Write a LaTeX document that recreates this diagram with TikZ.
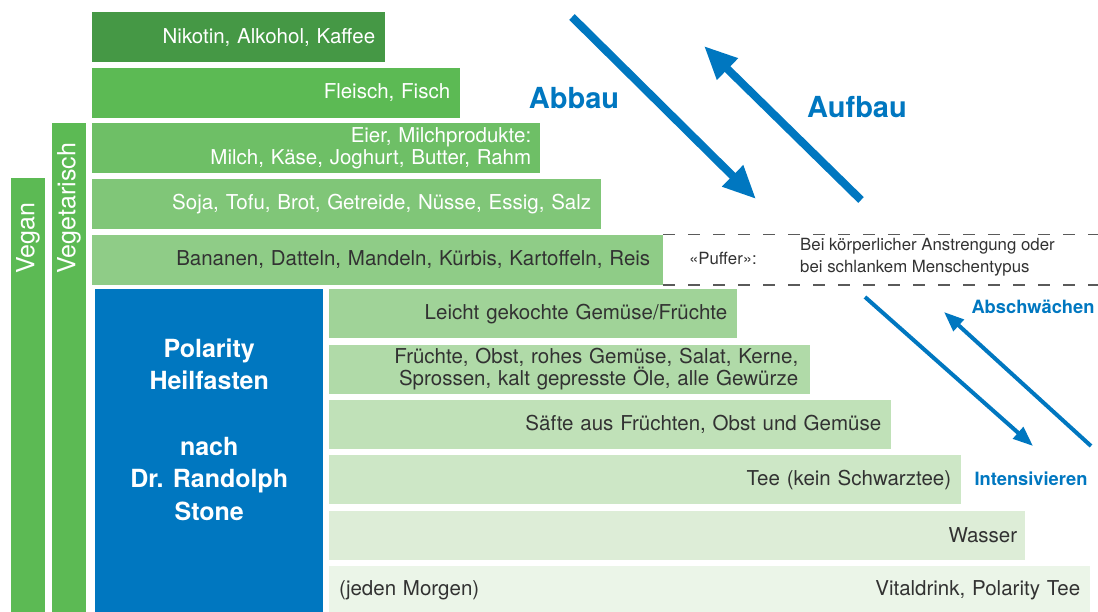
\documentclass[tikz,border=0pt]{standalone}
\usepackage{fontspec}
\setmainfont{TeX Gyre Heros}
\usetikzlibrary{arrows.meta, positioning}

\definecolor{greenA}{RGB}{69,152,69}
\definecolor{greenB}{RGB}{92,186,84}
\definecolor{greenC}{RGB}{110,191,102}
\definecolor{greenD}{RGB}{128,198,120}
\definecolor{greenE}{RGB}{143,204,135}
\definecolor{greenF}{RGB}{160,211,152}
\definecolor{greenG}{RGB}{176,218,168}
\definecolor{greenH}{RGB}{192,225,184}
\definecolor{greenI}{RGB}{205,231,198}
\definecolor{greenJ}{RGB}{221,237,215}
\definecolor{greenK}{RGB}{235,245,232}
\definecolor{polblue}{RGB}{0,119,192}
\definecolor{darktext}{RGB}{50,50,50}
\definecolor{dashgray}{RGB}{90,90,90}

\begin{document}
\begin{tikzpicture}[x=1pt, y=-1pt,
  bar/.style={rectangle, anchor=north west, inner xsep=10pt, inner ysep=0pt,
    minimum height=50pt, align=right, text=darktext,
    font=\fontsize{20.5}{22.5}\selectfont},
  lowbar/.style={bar, minimum height=49pt},
  side/.style={rectangle, anchor=north west, fill=greenB, inner sep=0pt, minimum width=34pt},
  vlabel/.style={rotate=90, anchor=west, text=white, font=\fontsize{25}{28}\selectfont},
  big arrow/.style={line width=8pt, draw=polblue, -{Triangle[length=33pt,width=28pt]}},
  small arrow/.style={line width=4pt, draw=polblue, -{Triangle[length=20pt,width=15pt]}},
  bluebig/.style={text=polblue, font=\fontsize{29}{32}\selectfont\bfseries},
  bluesmall/.style={text=polblue, font=\fontsize{18.3}{20}\selectfont\bfseries},
  puffer line/.style={draw=dashgray, line width=1.2pt, dash pattern=on 12pt off 13pt},
  note/.style={text=darktext, font=\fontsize{16.8}{22}\selectfont}]

  \useasboundingbox (0,0) rectangle (1098,612);

  % side columns
  \node[side, minimum height=434pt] (vegan) at (11,178) {};
  \node[side, minimum height=489pt] (vegetarisch) at (52,123) {};
  \node[vlabel] (veganlbl) at (28,277) {Vegan};
  \node[vlabel] (vegetarischlbl) at (69,277) {Vegetarisch};

  % upper steps
  \node[bar, fill=greenA, text=white, text width=273pt] (nikotin) at (92,12) {Nikotin, Alkohol, Kaffee};
  \node[bar, fill=greenB, text=white, text width=348pt, below=5.25pt of nikotin.south west, anchor=north west] (fleisch) {Fleisch, Fisch};
  \node[bar, fill=greenC, text=white, text width=430pt, inner xsep=9pt, below=5.25pt of fleisch.south west, anchor=north west] (eier) {Eier, Milchprodukte:\\Milch, Käse, Joghurt, Butter, Rahm};
  \node[bar, fill=greenD, text=white, text width=489pt, below=5.25pt of eier.south west, anchor=north west] (soja) {Soja, Tofu, Brot, Getreide, Nüsse, Essig, Salz};
  \node[bar, fill=greenE, text width=545pt, inner xsep=13pt, below=5.25pt of soja.south west, anchor=north west] (bananen) {Bananen, Datteln, Mandeln, Kürbis, Kartoffeln, Reis};

  % puffer zone
  \coordinate (rim) at (1098,0);
  \draw[puffer line] (bananen.north east) -- (bananen.north east -| rim);
  \draw[puffer line] (bananen.south east) -- (bananen.south east -| rim);
  \node[note] (puffer) at (723,258) {«Puffer»:};
  \node[note, anchor=west, align=left, inner xsep=0pt] (puffernote) at (800,257) {Bei körperlicher Anstrengung oder\\bei schlankem Menschentypus};

  % fasting block
  \node[fill=polblue, anchor=north west, minimum width=228pt, minimum height=323pt, inner sep=0pt] (polarity) at (95,289) {};
  \node[text=white, align=center, font=\fontsize{25}{32.5}\selectfont\bfseries] (polaritytext) at ([yshift=21pt]polarity.center) {Polarity\\Heilfasten\\[33pt]nach\\Dr. Randolph\\Stone};

  % lower steps
  \node[lowbar, fill=greenF, text width=388pt] (leicht) at (329,289) {Leicht gekochte Gemüse/Früchte};
  \node[lowbar, fill=greenG, text width=457pt, inner xsep=12pt, below=6pt of leicht.south west, anchor=north west] (fruechte) {Früchte, Obst, rohes Gemüse, Salat, Kerne,\\Sprossen, kalt gepresste Öle, alle Gewürze};
  \node[lowbar, fill=greenH, text width=542pt, below=6pt of fruechte.south west, anchor=north west] (saefte) {Säfte aus Früchten, Obst und Gemüse};
  \node[lowbar, fill=greenI, text width=612pt, below=6pt of saefte.south west, anchor=north west] (tee) {Tee (kein Schwarztee)};
  \node[lowbar, fill=greenJ, text width=680pt, inner xsep=8pt, below=6pt of tee.south west, anchor=north west] (wasser) {Wasser};
  \node[lowbar, fill=greenK, minimum height=48pt, text width=741pt, below=6pt of wasser.south west, anchor=north west] (vital) {(jeden Morgen)\hfill Vitaldrink, Polarity Tee};

  % big arrows
  \coordinate (abbauS) at (572,17);
  \coordinate (abbauE) at (756,199);
  \coordinate (aufbauS) at (861,200);
  \coordinate (aufbauE) at (704,46);
  \draw[big arrow] (abbauS) -- (abbauE);
  \draw[big arrow] (aufbauS) -- (aufbauE);
  \node[bluebig] (abbau) at (574,98) {Abbau};
  \node[bluebig] (aufbau) at (857,107) {Aufbau};

  % small arrows
  \coordinate (intensS) at (865,297);
  \coordinate (intensE) at (1033,446);
  \coordinate (abschwS) at (1091,446);
  \coordinate (abschwE) at (944,312);
  \draw[small arrow] (intensS) -- (intensE);
  \draw[small arrow] (abschwS) -- (abschwE);
  \node[bluesmall] (abschw) at (1033,307) {Abschwächen};
  \node[bluesmall] (intens) at (1031,479) {Intensivieren};
\end{tikzpicture}
\end{document}
